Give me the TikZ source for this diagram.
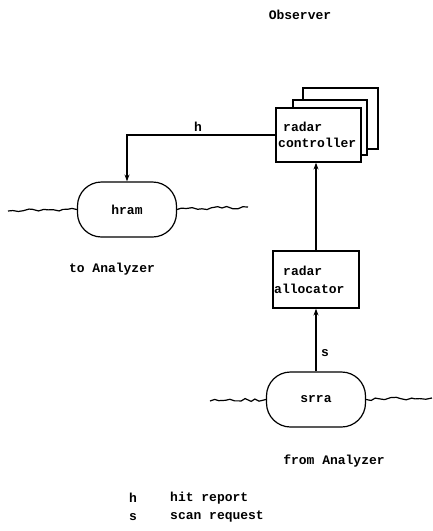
\documentclass[tikz,border=0pt]{standalone}
\usepackage{fontspec}
\setmonofont{Liberation Mono}
\usetikzlibrary{arrows.meta,decorations.pathmorphing}
\begin{document}
\begin{tikzpicture}[x=1pt,y=-1pt,
  every node/.style={font=\ttfamily\bfseries\fontsize{13}{15}\selectfont},
  proc/.style={draw,line width=1.2pt,rectangle,inner sep=0pt},
  store/.style={draw,line width=1.2pt,rectangle,rounded corners=24pt,inner sep=0pt,
    minimum width=99pt,minimum height=55pt},
  flow/.style={line width=1.3pt,-{Stealth[length=7pt,width=5pt]}},
  wave/.style={line width=1.2pt,decorate,decoration={random steps,segment length=5pt,amplitude=1.5pt}},
  lbl/.style={inner sep=0pt}]
\pgfmathsetseed{7}
\useasboundingbox (0,0) rectangle (433,531);

\node[lbl] (obs) at (300,15) {Observer};

% stacked controller boxes (back to front)
\draw[line width=1.2pt,fill=white] (303,88) rectangle (378,149);
\draw[line width=1.2pt,fill=white] (293,100) rectangle (367,155);
\node[proc,fill=white,minimum width=85pt,minimum height=54pt] (ctrl) at (318.5,135) {};
\node[lbl,anchor=west] (ctrlA) at (283,127) {radar};
\node[lbl,anchor=west] (ctrlB) at (278,143) {controller};

% allocator
\node[proc,minimum width=86pt,minimum height=57pt] (alloc) at (316,279.5) {};
\node[lbl,anchor=west] (allocA) at (283,271) {radar};
\node[lbl,anchor=west] (allocB) at (274,289) {allocator};

% data stores
\node[store] (hram) at (127,209.5) {hram};
\node[store] (srra) at (316,399.5) {srra};

% flows
\draw[flow] (ctrl.west) -| (hram.north);
\node[lbl] (hlab) at (198,127) {h};
\draw[flow] (alloc.north) -- (alloc.north |- ctrl.south);
\draw[flow] (srra.north) -- (srra.north |- alloc.south);
\node[lbl] (slab) at (325,353) {s};

% wavy boundaries
\coordinate (w1) at (8,211);
\coordinate (w2) at (248,207);
\coordinate (w3) at (210,401);
\coordinate (w4) at (432,398);
\draw[wave] (w1) -- (hram.west);
\draw[wave] (hram.east) -- (w2);
\draw[wave] (w3) -- (srra.west);
\draw[wave] (srra.east) -- (w4);

\node[lbl] (toA) at (112,269) {to Analyzer};
\node[lbl] (fromA) at (334,461) {from Analyzer};

% legend
\node[lbl] (kh) at (133,498) {h};
\node[lbl,anchor=west] (th) at (170,498) {hit report};
\node[lbl] (ks) at (133,517) {s};
\node[lbl,anchor=west] (ts) at (170,517) {scan request};
\end{tikzpicture}
\end{document}
